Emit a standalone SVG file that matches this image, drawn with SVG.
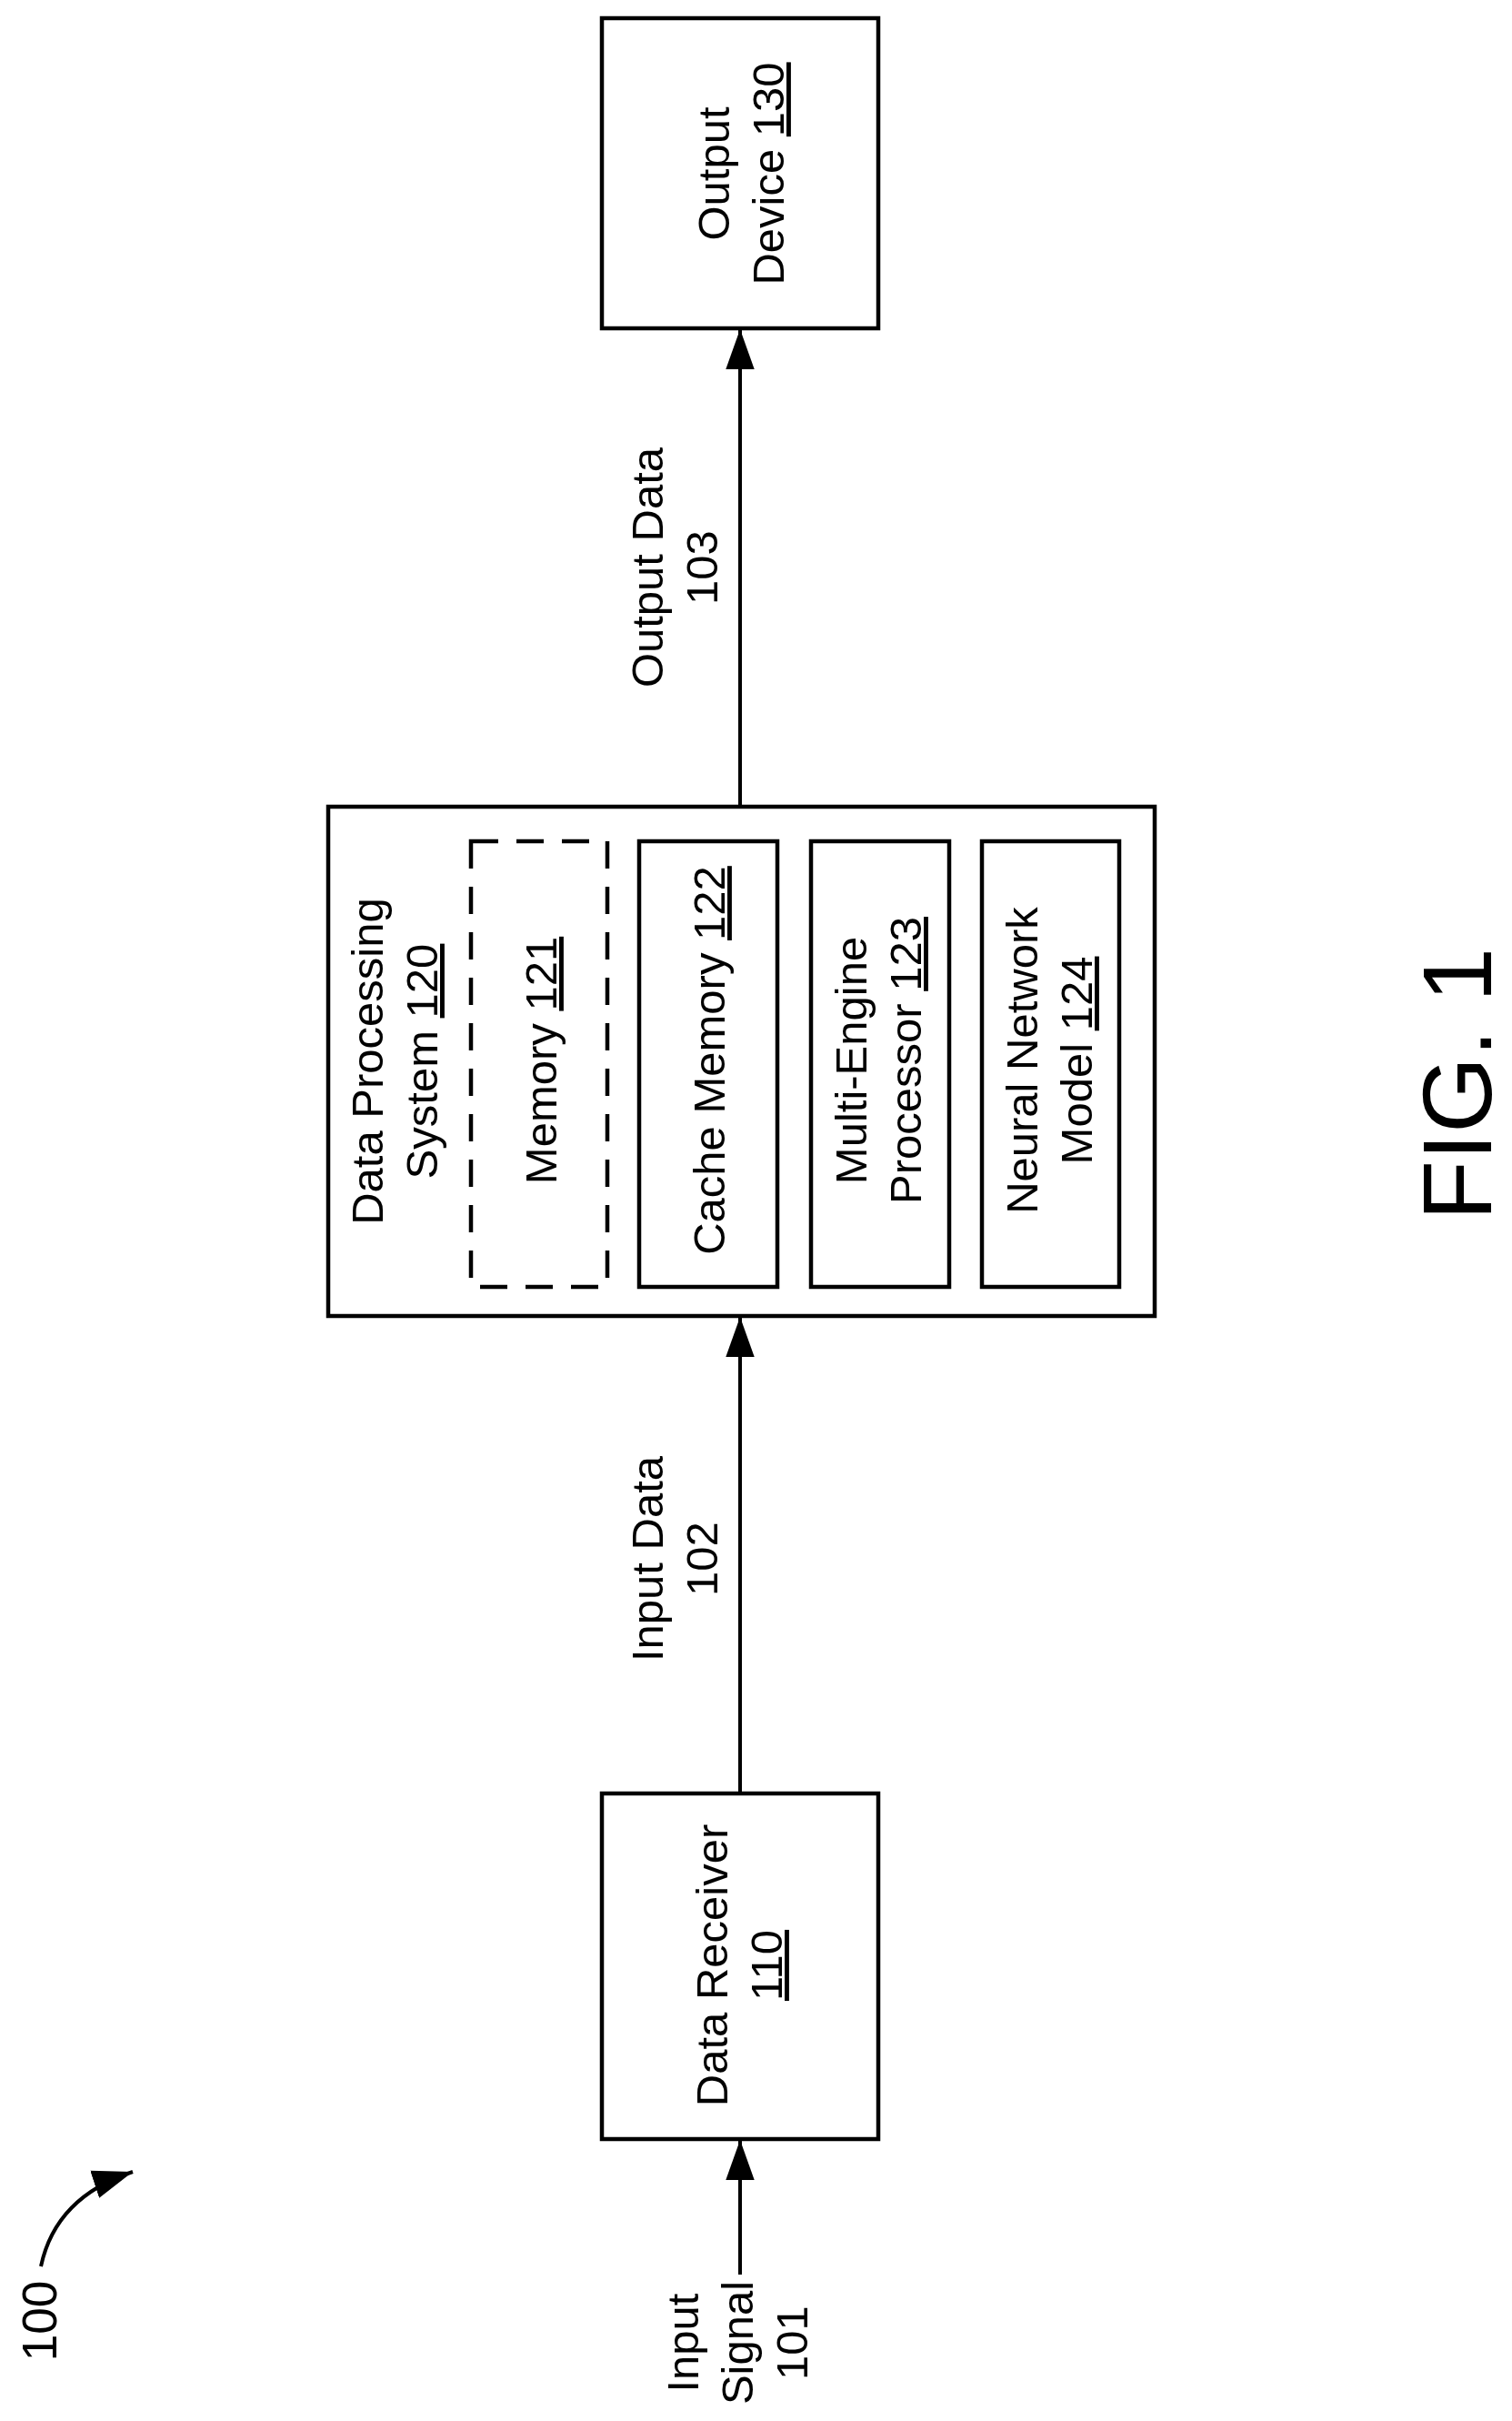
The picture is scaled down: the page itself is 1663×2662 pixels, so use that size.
<svg xmlns="http://www.w3.org/2000/svg" width="1663" height="2662" viewBox="0 0 1663 2662">
<style>
text{font-family:"Liberation Sans",Arial,sans-serif;font-size:49px;fill:#000;text-anchor:middle}
.box{fill:#fff;stroke:#000;stroke-width:4.5}
.dash{fill:none;stroke:#000;stroke-width:4.5;stroke-dasharray:30 20}
.ln{fill:none;stroke:#000;stroke-width:4}
.u{text-decoration:underline}
</style>
<defs>
<marker id="ah" markerUnits="userSpaceOnUse" markerWidth="44" markerHeight="32" refX="42" refY="15" orient="auto" viewBox="0 0 42 30">
<path d="M0,0 L42,15 L0,30 Z" fill="#000"/>
</marker>
</defs>
<rect width="1663" height="2662" fill="#fff"/>
<g id="connectors">
<line class="ln" x1="814" y1="887" x2="814" y2="362" marker-end="url(#ah)"/>
<line class="ln" x1="814" y1="1972" x2="814" y2="1448" marker-end="url(#ah)"/>
<line class="ln" x1="814" y1="2501" x2="814" y2="2353" marker-end="url(#ah)"/>
<path class="ln" d="M45,2492 C55,2445 85,2408 146,2388" marker-end="url(#ah)"/>
<text transform="rotate(-90 729 624)" x="729" y="624">Output Data</text>
<text transform="rotate(-90 789 624)" x="789" y="624">103</text>
<text transform="rotate(-90 729 1714)" x="729" y="1714">Input Data</text>
<text transform="rotate(-90 789 1714)" x="789" y="1714">102</text>
<text transform="rotate(-90 768 2576)" x="768" y="2576">Input</text>
<text transform="rotate(-90 828 2576)" x="828" y="2576">Signal</text>
<text transform="rotate(-90 888 2576)" x="888" y="2576">101</text>
</g>
<g id="output-device">
<rect class="box" x="662" y="20" width="304" height="341"/>
<text transform="rotate(-90 802 191)" x="802" y="191">Output</text>
<text transform="rotate(-90 862 191)" x="862" y="191">Device <tspan class="u">130</tspan></text>
</g>
<g id="dps">
<rect class="box" x="361" y="887" width="909" height="560"/>
<text transform="rotate(-90 421 1167)" x="421" y="1167">Data Processing</text>
<text transform="rotate(-90 481 1167)" x="481" y="1167">System <tspan class="u">120</tspan></text>
</g>
<g id="memory">
<rect class="dash" x="518" y="925" width="150" height="490"/>
<text transform="rotate(-90 612 1166)" x="612" y="1166">Memory <tspan class="u">121</tspan></text>
</g>
<g id="cache">
<rect class="box" x="703" y="925" width="152" height="490"/>
<text transform="rotate(-90 797 1166)" x="797" y="1166">Cache Memory <tspan class="u">122</tspan></text>
</g>
<g id="multi-engine">
<rect class="box" x="892" y="925" width="152" height="490"/>
<text transform="rotate(-90 953 1166)" x="953" y="1166">Multi-Engine</text>
<text transform="rotate(-90 1013 1166)" x="1013" y="1166">Processor <tspan class="u">123</tspan></text>
</g>
<g id="neural">
<rect class="box" x="1080" y="925" width="151" height="490"/>
<text transform="rotate(-90 1141 1166)" x="1141" y="1166">Neural Network</text>
<text transform="rotate(-90 1201 1166)" x="1201" y="1166">Model <tspan class="u">124</tspan></text>
</g>
<g id="data-receiver">
<rect class="box" x="662" y="1972" width="304" height="380"/>
<text transform="rotate(-90 800 2161)" x="800" y="2161">Data Receiver</text>
<text transform="rotate(-90 860 2161)" x="860" y="2161" class="u">110</text>
</g>
<g id="labels">
<text transform="rotate(-90 62 2552)" x="62" y="2552" style="font-size:53px">100</text>
<text transform="rotate(-90 1640 1192)" x="1640" y="1192" style="font-size:108px">FIG. 1</text>
</g>
</svg>
